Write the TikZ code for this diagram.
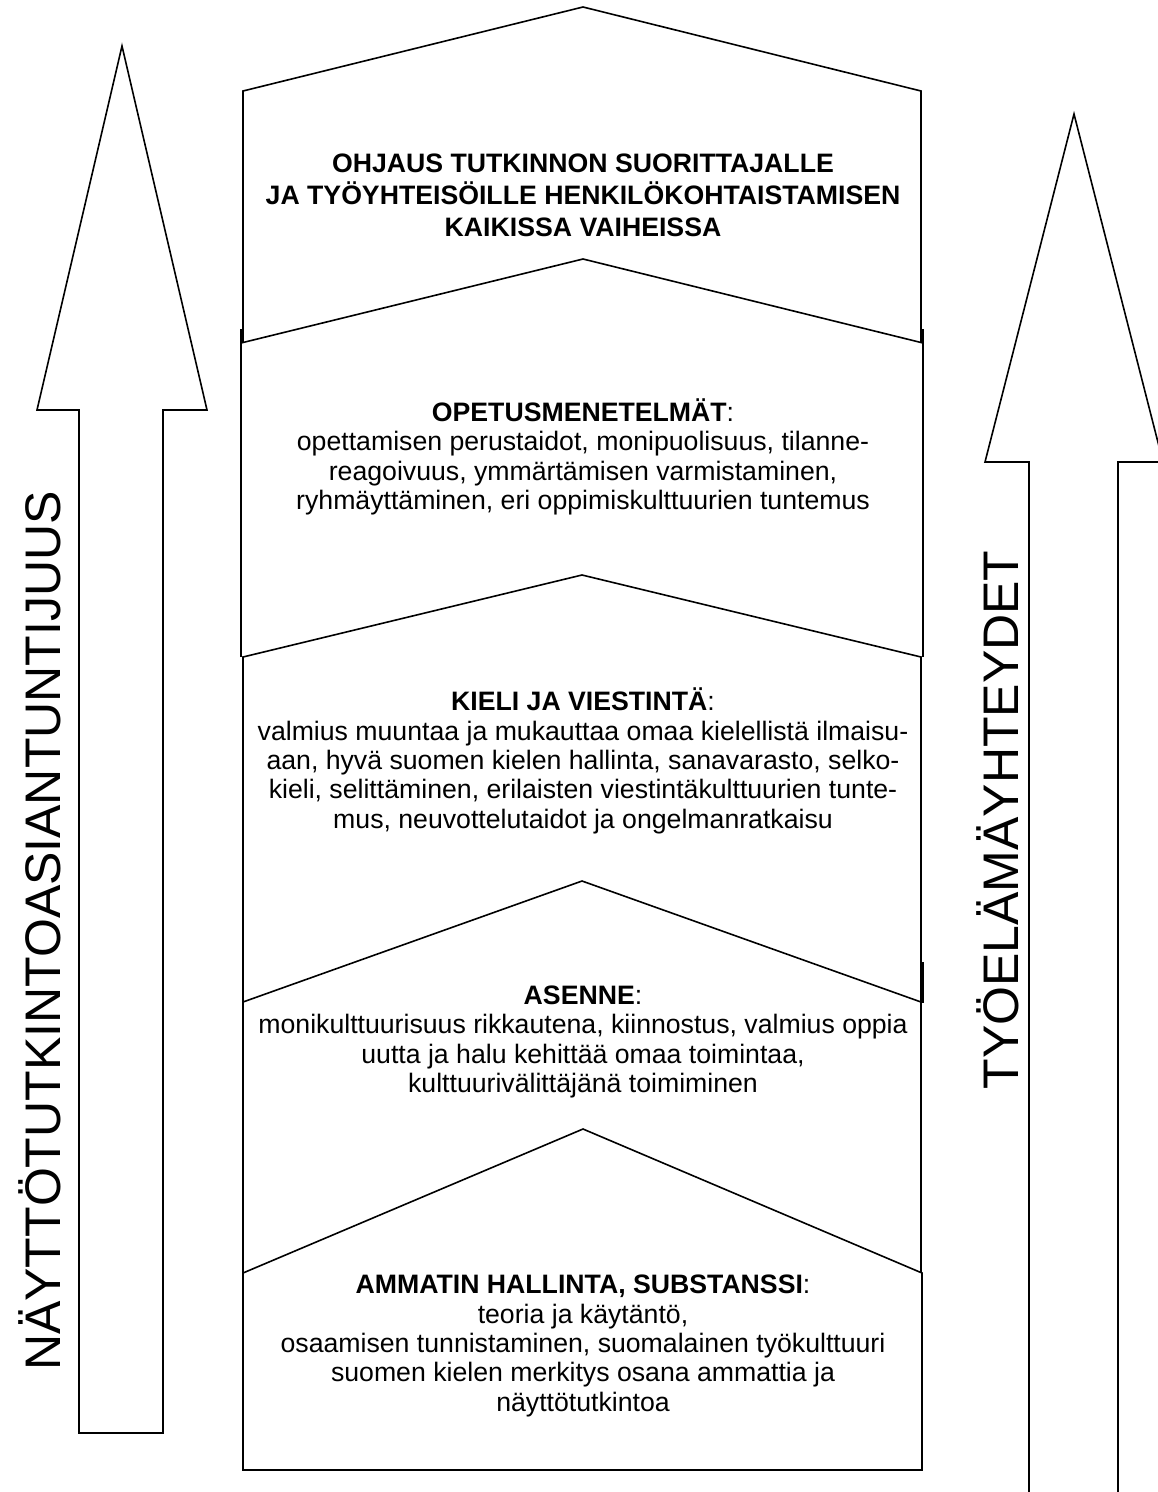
\documentclass[tikz,border=0pt]{standalone}
\usepackage{fontspec}
\setmainfont{Liberation Sans}
\begin{document}
\begin{tikzpicture}[x=0.75pt,y=-0.75pt]
\tikzset{
  outline/.style={draw=black, line width=1.2pt, line join=miter},
  blank/.style={fill=white},
  bigarrow/.style={draw=black, fill=white, line width=1.2pt, line join=miter},
  body/.style={align=center, inner sep=0pt, font=\fontsize{20}{22}\selectfont},
  head/.style={align=center, inner sep=0pt, font=\fontsize{20}{24}\selectfont\bfseries},
  sidelabel/.style={inner sep=0pt, rotate=90, font=\fontsize{37.5}{40}\selectfont}
}
\useasboundingbox (0,0) rectangle (1157,1492);

% left upward arrow
\draw[bigarrow] (122,46) -- (207,410) -- (163,410) -- (163,1433) -- (79,1433)
  -- (79,410) -- (37,410) -- cycle;
% right upward arrow, running past the page edges
\draw[bigarrow] (1074,114) -- (1163,462) -- (1118,462) -- (1118,1530) -- (1029,1530)
  -- (1029,462) -- (985,462) -- cycle;

% tier 1
\fill[blank] (243,91) -- (583,7) -- (921,91) -- (921,343) -- (243,343) -- cycle;
\draw[outline] (243,343) -- (243,91) -- (583,7) -- (921,91) -- (921,343);
% tier 2
\fill[blank] (241,343) -- (583,259) -- (923,343) -- (923,657) -- (241,657) -- cycle;
\draw[outline] (241,657) -- (241,329);
\draw[outline] (923,657) -- (923,329);
\draw[outline] (241,343) -- (583,259) -- (923,343);
% tier 3
\fill[blank] (243,657) -- (582,575) -- (921,657) -- (921,1002) -- (243,1002) -- cycle;
\draw[outline] (243,1002) -- (243,657) -- (582,575) -- (921,657) -- (921,1002);
% tier 4
\fill[blank] (243,1002) -- (582,881) -- (921,1002) -- (921,1273) -- (243,1273) -- cycle;
\draw[outline] (243,1273) -- (243,1002) -- (582,881) -- (921,1002) -- (921,1273);
\draw[outline] (923,962) -- (923,1003);
% tier 5
\draw[outline, fill=white] (243,1273) -- (583,1129) -- (922,1273) -- (922,1470)
  -- (243,1470) -- cycle;

% tier texts
\node[head] (ohjaus) at (583,195) {OHJAUS TUTKINNON SUORITTAJALLE\\
  JA TYÖYHTEISÖILLE HENKILÖKOHTAISTAMISEN\\KAIKISSA VAIHEISSA};
\node[body] (opetus) at (583,457) {\textbf{OPETUSMENETELMÄT}:\\
  opettamisen perustaidot, monipuolisuus, tilanne-\\
  reagoivuus, ymmärtämisen varmistaminen,\\
  ryhmäyttäminen, eri oppimiskulttuurien tuntemus};
\node[body] (kieli) at (583,761) {\textbf{KIELI JA VIESTINTÄ}:\\
  valmius muuntaa ja mukauttaa omaa kielellistä ilmaisu-\\
  aan, hyvä suomen kielen hallinta, sanavarasto, selko-\\
  kieli, selittäminen, erilaisten viestintäkulttuurien tunte-\\
  mus, neuvottelutaidot ja ongelmanratkaisu};
\node[body] (asenne) at (583,1042) {\textbf{ASENNE}:\\
  monikulttuurisuus rikkautena, kiinnostus, valmius oppia\\
  uutta ja halu kehittää omaa toimintaa,\\
  kulttuurivälittäjänä toimiminen};
\node[body] (ammatti) at (583,1346) {\textbf{AMMATIN HALLINTA, SUBSTANSSI}:\\
  teoria ja käytäntö,\\
  osaamisen tunnistaminen, suomalainen työkulttuuri\\
  suomen kielen merkitys osana ammattia ja\\
  näyttötutkintoa};

% side labels
\node[sidelabel] (asiantuntijuus) at (40,931) {NÄYTTÖTUTKINTOASIANTUNTIJUUS};
\node[sidelabel] (tyoelama) at (998,820) {TYÖELÄMÄYHTEYDET};
\end{tikzpicture}
\end{document}
